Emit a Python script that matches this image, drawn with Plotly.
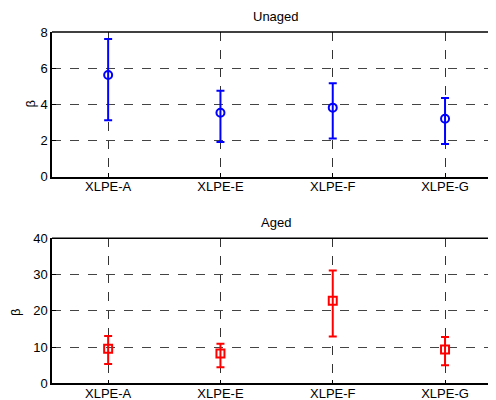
import plotly.graph_objects as go
from plotly.subplots import make_subplots

categories = ["XLPE-A", "XLPE-E", "XLPE-F", "XLPE-G"]
unaged_mean = [5.62, 3.54, 3.82, 3.21]
unaged_upper = [7.61, 4.76, 5.17, 4.35]
unaged_lower = [3.13, 1.92, 2.12, 1.81]
aged_mean = [9.55, 8.2, 22.8, 9.3]
aged_upper = [13.05, 10.9, 31.1, 12.8]
aged_lower = [5.3, 4.4, 12.9, 5.0]
xpos = [1, 2, 3, 4]

fig = make_subplots(rows=2, cols=1)

def add(mean, upper, lower, color, symbol, row):
    fig.add_trace(go.Scatter(
        x=xpos, y=mean, mode="markers",
        marker=dict(symbol=symbol, size=8, color=color,
                    line=dict(color=color, width=2)),
        error_y=dict(type="data", symmetric=False,
                     array=[u - m for u, m in zip(upper, mean)],
                     arrayminus=[m - l for m, l in zip(mean, lower)],
                     color=color, thickness=2, width=4),
        showlegend=False), row=row, col=1)

add(unaged_mean, unaged_upper, unaged_lower, "#0000ff", "circle-open", 1)
add(aged_mean, aged_upper, aged_lower, "#ff0000", "square-open", 2)

font = dict(family="Liberation Sans, Arial, sans-serif", size=13, color="black")
xcommon = dict(range=[0.5, 4.525], tickmode="array", tickvals=xpos, ticktext=categories,
               showgrid=True, griddash="dash", gridcolor="#333", gridwidth=1,
               showline=True, linecolor="black", linewidth=1.5, ticks="inside",
               ticklen=4, tickcolor="black", zeroline=False, tickfont=font, domain=[0, 1],
               automargin=False, ticklabelstandoff=-3)
ycommon = dict(showgrid=True, griddash="dash", gridcolor="#444", gridwidth=1,
               showline=True, linecolor="black", linewidth=1.5, ticks="inside",
               ticklen=4, tickcolor="black", zeroline=False, tickfont=font,
               automargin=False)

plot_w = 496 - 44
ann = dict(xref="paper", yref="paper", showarrow=False, font=font,
           xanchor="center", yanchor="middle")
fig.update_layout(
    width=496, height=400,
    margin=dict(l=44, r=0, t=0, b=0),
    plot_bgcolor="white", paper_bgcolor="white",
    font=font,
    xaxis=xcommon, xaxis2=xcommon,
    yaxis=dict(ycommon, range=[0, 8], tickvals=[0, 2, 4, 6, 8], domain=[0.578, 0.94]),
    yaxis2=dict(ycommon, range=[0, 40], tickvals=[0, 10, 20, 30, 40], domain=[0.0618, 0.4243]),
    annotations=[
        dict(ann, text="Unaged", x=(268 - 44) / plot_w, y=1 - 8 / 400),
        dict(ann, text="Aged", x=(268 - 44) / plot_w, y=1 - 214 / 400),
        dict(ann, text="β", x=(22 - 44) / plot_w, y=1 - 96.5 / 400, textangle=-90),
        dict(ann, text="β", x=(7 - 44) / plot_w, y=1 - 305 / 400, textangle=-90),
    ],
    shapes=[
        dict(type="line", xref="x domain", yref="y domain", x0=0, x1=1, y0=1, y1=1,
             line=dict(color="black", width=1.5)),
        dict(type="line", xref="x2 domain", yref="y2 domain", x0=0, x1=1, y0=1, y1=1,
             line=dict(color="black", width=1.5)),
    ],
)

fig.write_html("out.html")
